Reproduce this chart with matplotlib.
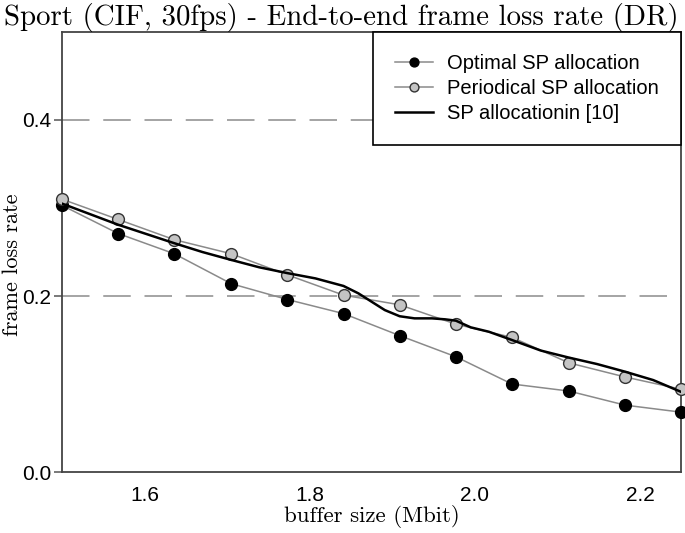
import matplotlib
matplotlib.use("Agg")
import matplotlib.pyplot as plt

# buffer size (Mbit)
buffer_mbit = [1.500, 1.568, 1.636, 1.705, 1.773, 1.841,
               1.909, 1.977, 2.045, 2.114, 2.182, 2.250]

# frame loss rate
optimal_sp = [0.303, 0.271, 0.248, 0.214, 0.196, 0.180,
              0.155, 0.131, 0.100, 0.092, 0.076, 0.068]
periodical_sp = [0.310, 0.287, 0.264, 0.248, 0.224, 0.201,
                 0.190, 0.168, 0.153, 0.124, 0.108, 0.094]

ref_x = [1.500, 1.534, 1.568, 1.602, 1.636, 1.670, 1.705, 1.739, 1.773,
         1.807, 1.841, 1.859, 1.875, 1.891, 1.909, 1.927, 1.948, 1.964,
         1.977, 1.995, 2.017, 2.045, 2.080, 2.114, 2.148, 2.182, 2.216, 2.250]
ref_y = [0.305, 0.293, 0.281, 0.2705, 0.260, 0.250, 0.241, 0.2326, 0.226,
         0.220, 0.2114, 0.203, 0.1935, 0.184, 0.177, 0.1746, 0.1746, 0.1735,
         0.172, 0.1644, 0.1594, 0.150, 0.138, 0.130, 0.1227, 0.114, 0.1045, 0.091]

x_ticks = [1.6, 1.8, 2.0, 2.2]
x_tick_labels = ["1.6", "1.8", "2.0", "2.2"]
y_ticks = [0.0, 0.2, 0.4]
y_tick_labels = ["0.0", "0.2", "0.4"]

sans = ["Liberation Sans Narrow", "Liberation Sans", "DejaVu Sans"]
serif = ["cmr10", "DejaVu Serif"]

fig = plt.figure(figsize=(6.85, 5.33), dpi=100)
ax = fig.add_axes([0.0905, 0.1144, 0.904, 0.8256])

# dashed reference lines
for yv in [0.2, 0.4]:
    ax.axhline(yv, color="#8c8c8c", lw=1.1, dashes=(18, 9), zorder=0)

ax.plot(buffer_mbit, optimal_sp, color="#8a8a8a", lw=1.1, marker="o",
        markersize=8.5, markerfacecolor="black", markeredgecolor="black",
        label="Optimal SP allocation", zorder=3, clip_on=False)
ax.plot(buffer_mbit, periodical_sp, color="#8a8a8a", lw=1.1, marker="o",
        markersize=8.5, markerfacecolor="#c4c4c4", markeredgecolor="#333333",
        markeredgewidth=1.0, label="Periodical SP allocation", zorder=3,
        clip_on=False)
ax.plot(ref_x, ref_y, color="black", lw=1.8, label="SP allocationin [10]",
        zorder=4)

ax.set_xlim(1.5, 2.25)
ax.set_ylim(0.0, 0.5)
ax.set_xticks(x_ticks)
ax.set_xticklabels(x_tick_labels, family=sans, fontsize=15)
ax.set_yticks(y_ticks)
ax.set_yticklabels(y_tick_labels, family=sans, fontsize=15)
ax.tick_params(axis="x", length=0, pad=10)
ax.tick_params(axis="y", length=6, width=1.1, color="#555555", pad=2)

for sp in ax.spines.values():
    sp.set_color("#444444")
    sp.set_linewidth(1.3)

fig.suptitle("Sport (CIF, 30fps) - End-to-end frame loss rate (DR)",
             family=serif, fontsize=20.8, x=0.498, y=0.995, va="top")
ax.set_xlabel("buffer size (Mbit)", family=serif, fontsize=16.5)
ax.xaxis.set_label_coords(0.5, -0.075)
ax.set_ylabel("frame loss rate", family=serif, fontsize=16)
ax.yaxis.set_label_coords(-0.064, 0.47)

leg = ax.legend(loc="upper right", bbox_to_anchor=(1.0, 1.0),
                prop={"family": sans, "size": 14.5}, fancybox=False,
                framealpha=1.0, edgecolor="black", markerscale=0.75,
                borderpad=1.1, handlelength=1.9, handletextpad=0.7,
                labelspacing=0.3, borderaxespad=0.0)
leg.get_frame().set_linewidth(1.2)

fig.savefig("out.png", dpi=100)
